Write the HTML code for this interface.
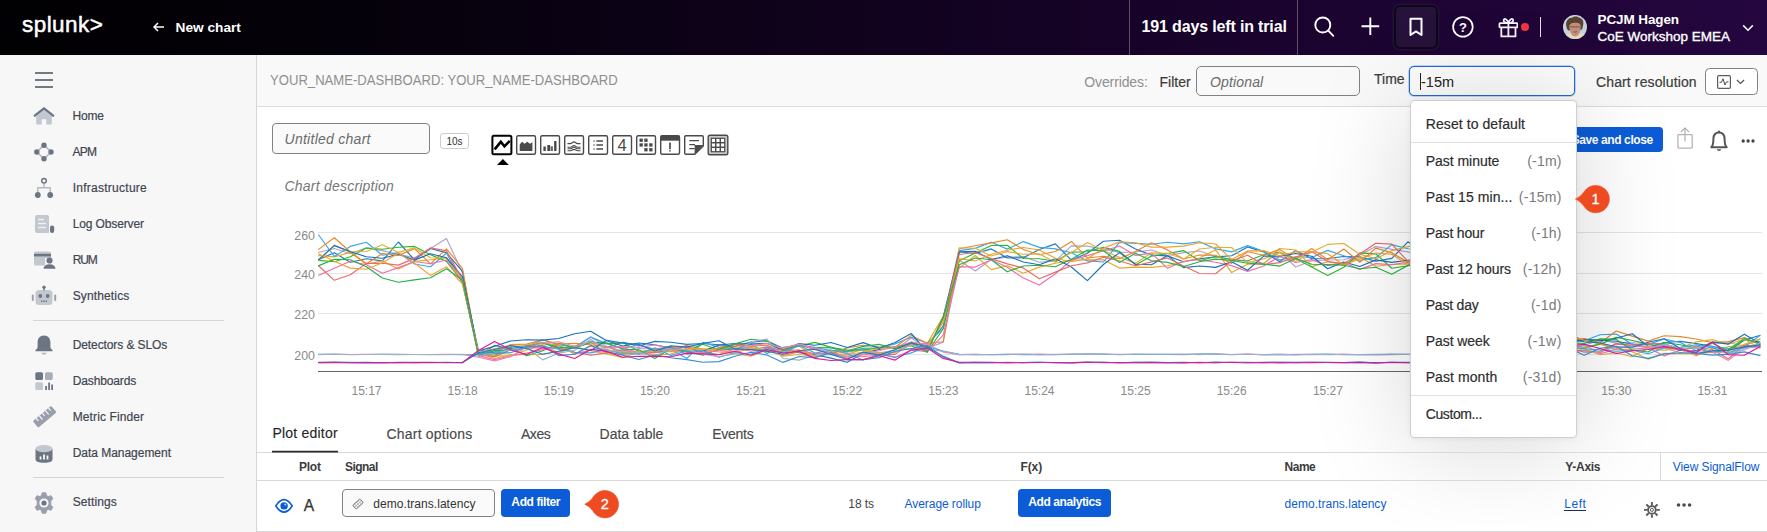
<!DOCTYPE html>
<html lang="en">
<head>
<meta charset="utf-8">
<title>New chart</title>
<style>
*{box-sizing:border-box;margin:0;padding:0}
html,body{width:1767px;height:532px;overflow:hidden;background:#fff}
body{font-family:"Liberation Sans",sans-serif;font-size:13px;color:#3c444d;position:relative}
.abs{position:absolute;white-space:nowrap}
#topbar{left:0;top:0;width:1767px;height:55px;background:linear-gradient(90deg,#010002 0%,#05010a 20%,#0f021b 45%,#170329 65%,#1f0537 85%,#25063f 100%)}
#topbar .t{color:#fff;font-weight:bold}
.vdiv{width:1px;background:#5a5163;top:0;height:55px}
#sidebar{left:0;top:55px;width:257px;height:477px;background:#f7f7f7;border-right:1px solid #d6d6d6}
.nav{left:72.600px;font-size:12px;color:#3f4650;line-height:16px;-webkit-text-stroke:0.200px #3f4650}
.sep{left:32.500px;width:191.500px;height:1px;background:#d6d6d6}
#subhdr{left:257px;top:55px;width:1510px;height:52px;background:#f9f9f9;border-bottom:1px solid #dcdcdc}
.inp{border:1px solid #818285;border-radius:4px;background:#f9f9f9}
.ph{font-style:italic;color:#6b6b6b;font-size:14px}
.btn{background:#0b5cd6;color:#fff;font-weight:bold;font-size:12px;border-radius:4px;text-align:center;letter-spacing:-0.400px}
.blue{color:#0b5cd6}
#dd{left:1409.500px;top:100px;width:167px;height:337.500px;background:#fff;border:1px solid #cfcfcf;border-radius:4px;box-shadow:0 6px 100px rgba(0,0,0,.17),0 1px 5px rgba(0,0,0,.06)}
.ddl{left:1426px;font-size:14px;color:#2c2c2c;line-height:16px;-webkit-text-stroke:0.180px #2c2c2c}
.ddr{font-size:14px;color:#7a7a7a;line-height:16px;text-align:right;right:206px}
.tab{font-size:14px;color:#4a4a4a;line-height:16px;-webkit-text-stroke:0.150px #4a4a4a}
.th{font-size:12px;font-weight:bold;color:#3c3c3c;line-height:14px}
.td{font-size:12px;line-height:14px}
.badge{width:26px;height:26px;border-radius:13px;background:#ee4b22;color:#fff;font-size:14px;text-align:center;line-height:26px}
</style>
</head>
<body>

<!-- TOP BAR -->
<div id="topbar" class="abs"></div>
<div class="abs t" id="logo" style="left:22px;top:9.6px;font-size:22.5px;line-height:30px;color:#fff;font-weight:normal;letter-spacing:0.45px;-webkit-text-stroke:0.5px #fff">splunk&gt;</div>
<svg class="abs" style="left:153px;top:22px" width="12" height="10" viewBox="0 0 12 10"><path d="M11 5H1.500M5 1L1 5L5 9" fill="none" stroke="#fff" stroke-width="1.500"/></svg>
<div class="abs" id="newchart" style="left:175.500px;top:19.6px;font-size:13.700px;line-height:16px;color:#fff;font-weight:bold">New chart</div>
<div class="abs vdiv" style="left:1129px"></div>
<div class="abs vdiv" style="left:1297px"></div>
<div class="abs" id="trial" style="left:1141.500px;top:17px;font-size:16px;line-height:20px;color:#fff;font-weight:bold;letter-spacing:-0.150px">191 days left in trial</div>
<!-- search -->
<svg class="abs" style="left:1312px;top:15px" width="24" height="24" viewBox="1312 15 24 24"><circle cx="1322.800" cy="25" r="7.500" fill="none" stroke="#fff" stroke-width="1.900"/><path d="M1328.300 30.600L1333.300 35.800" stroke="#fff" stroke-width="1.900" stroke-linecap="round"/></svg>
<!-- plus -->
<svg class="abs" style="left:1360px;top:16px" width="22" height="22" viewBox="1360 16 22 22"><path d="M1370.300 17.400V35.100M1361.500 26.250H1379.200" stroke="#fff" stroke-width="1.900"/></svg>
<!-- bookmark box -->
<div class="abs" style="left:1394px;top:5px;width:44px;height:44px;border-radius:6px;background:#26123b;border:2px solid #0d0912;box-shadow:0 0 0 1.500px #24103a"></div>
<svg class="abs" style="left:1407px;top:16px" width="18" height="22" viewBox="1407 16 18 22"><path d="M1410.500 18.700H1421.500V35L1416 31.400L1410.500 35Z" fill="none" stroke="#fff" stroke-width="2" stroke-linejoin="round"/></svg>
<!-- help -->
<svg class="abs" style="left:1451px;top:15px" width="24" height="24" viewBox="1451 15 24 24"><circle cx="1462.900" cy="26.900" r="9.800" fill="none" stroke="#fff" stroke-width="1.700"/><text x="1462.900" y="31.600" text-anchor="middle" font-family="Liberation Sans, sans-serif" font-weight="bold" font-size="13" fill="#fff">?</text></svg>
<!-- gift -->
<svg class="abs" style="left:1497.600px;top:16.800px" width="20.800" height="20.800" viewBox="0 0 22 22"><g fill="none" stroke="#f4f2f6" stroke-width="1.900" stroke-linejoin="round"><rect x="1.500" y="6.500" width="19" height="4.500" rx="0.800"/><path d="M3.5 11V20.5H18.5V11M11 6.5V20.5"/><path d="M11 6.5C8 6.5 5.5 5.5 6 3.2C6.6 1 10 2 11 6.5C12 2 15.400000000000002 1 16 3.2C16.5 5.5 14 6.5 11 6.5Z"/></g></svg>
<div class="abs" style="left:1521px;top:22.800px;width:8px;height:8px;border-radius:4px;background:#f8353f"></div>
<div class="abs" style="left:1539.800px;top:17px;width:1.500px;height:20px;background:#e4dfea"></div>
<!-- avatar -->
<svg class="abs" style="left:1563px;top:15px" width="24" height="24" viewBox="0 0 24 24"><defs><clipPath id="av"><circle cx="12" cy="11.900" r="12"/></clipPath></defs><g clip-path="url(#av)"><rect width="24" height="24" fill="#c6d2de"/><path d="M0 24L3 19.500L8 18H17L21.500 19L24 24Z" fill="#e3dac4"/><path d="M3.500 12C2 7 5 2.500 9 2.800C11 0.800 15 1.200 17 3C20.500 4 21 8 19.800 11.500C19.500 14 18.500 15.500 17.500 15L6 15.500C4.500 15.500 3.800 13.500 3.500 12Z" fill="#5a4233"/><path d="M6.300 11.500C6.500 8.500 9 7.500 12.500 7.800C16 7.500 18 9 17.800 12C17.800 17 15.500 21.500 12.300 21.500C9 21.500 6.300 17 6.300 11.500Z" fill="#c28f7b"/><path d="M7 11.900H17.300" stroke="#4d3a34" stroke-width="0.800" opacity="0.800"/><path d="M10.500 16.700Q12.200 17.600 14 16.600" stroke="#7a4a40" stroke-width="0.900" fill="none"/></g></svg>
<div class="abs" id="uname" style="left:1597.500px;top:12px;font-size:13.500px;line-height:16px;color:#fff;font-weight:bold;letter-spacing:-0.100px">PCJM Hagen</div>
<div class="abs" id="uorg" style="left:1597.500px;top:29px;font-size:13.500px;line-height:16px;color:#fff;font-weight:normal;-webkit-text-stroke:0.350px #fff">CoE Workshop EMEA</div>
<svg class="abs" style="left:1742.300px;top:23.500px" width="12" height="8" viewBox="0 0 12 8"><path d="M1.200 1.400L6 6.200L10.800 1.400" fill="none" stroke="#fff" stroke-width="1.5"/></svg>

<!-- SIDEBAR -->
<div id="sidebar" class="abs"></div>
<svg class="abs" style="left:35px;top:72px" width="18" height="16" viewBox="0 0 18 16"><path d="M0 1H18M0 8H18M0 15.100H18" stroke="#4a5260" stroke-width="1.500"/></svg>
<div class="abs nav" id="n1" style="top:108px;left:72.600px;letter-spacing:-0.205px">Home</div>
<div class="abs nav" id="n2" style="top:144px;left:72.600px;letter-spacing:-0.808px">APM</div>
<div class="abs nav" id="n3" style="top:180px;left:72.700px;letter-spacing:0.261px">Infrastructure</div>
<div class="abs nav" id="n4" style="top:216px;left:72.700px;letter-spacing:-0.128px">Log Observer</div>
<div class="abs nav" id="n5" style="top:252px;left:72.700px;letter-spacing:-1.164px">RUM</div>
<div class="abs nav" id="n6" style="top:288px;left:72.700px;letter-spacing:0.138px">Synthetics</div>
<div class="abs sep" style="top:320px"></div>
<div class="abs nav" id="n7" style="top:337px;left:72.700px;letter-spacing:-0.096px">Detectors &amp; SLOs</div>
<div class="abs nav" id="n8" style="top:373px;left:72.700px;letter-spacing:-0.124px">Dashboards</div>
<div class="abs nav" id="n9" style="top:409px;left:72.700px;letter-spacing:0.115px">Metric Finder</div>
<div class="abs nav" id="n10" style="top:445px;left:72.700px;letter-spacing:-0.031px">Data Management</div>
<div class="abs sep" style="top:477px"></div>
<div class="abs nav" id="n11" style="top:494px;left:72.700px;letter-spacing:0.106px">Settings</div>
<!-- home -->
<svg class="abs" style="left:33px;top:106px" width="22" height="20" viewBox="0 0 22 20"><path d="M3.200 10L11 3.800L18.800 10V17.300Q18.800 18.600 17.500 18.600H13.300V14.300Q13.300 13.300 12.300 13.300H9.700Q8.700 13.300 8.700 14.300V18.600H4.500Q3.200 18.600 3.200 17.300Z" fill="#c3c7cf"/><path d="M1.800 9.700L11 2.300L20.200 9.700" fill="none" stroke="#6e7582" stroke-width="2.300" stroke-linecap="round" stroke-linejoin="round"/></svg>
<!-- apm -->
<svg class="abs" style="left:33px;top:141px" width="22" height="22" viewBox="0 0 22 22"><path d="M11 4.200L3.800 11L11 17.800L18.200 11Z" fill="none" stroke="#b4b9c2" stroke-width="1.600"/><g fill="#6e7582"><circle cx="11" cy="4.300" r="2.700"/><circle cx="3.800" cy="11" r="2.700"/><circle cx="18" cy="11" r="2.700"/><circle cx="11" cy="17.700" r="2.700"/></g></svg>
<!-- infrastructure -->
<svg class="abs" style="left:33px;top:176px" width="22" height="23" viewBox="0 0 22 23"><path d="M11 7.500V11.700M4.800 16V11.700H17.200V16" fill="none" stroke="#b4b9c2" stroke-width="1.500"/><circle cx="11" cy="4.800" r="2.300" fill="none" stroke="#6e7582" stroke-width="1.500"/><circle cx="4.800" cy="19" r="2.900" fill="#6e7582"/><circle cx="17.200" cy="19" r="2.900" fill="#6e7582"/></svg>
<!-- log observer -->
<svg class="abs" style="left:34px;top:214px" width="22" height="20" viewBox="0 0 22 20"><path d="M3 1H13Q15 1 15 3V19H3Q1 19 1 17V3Q1 1 3 1Z" fill="#c3c7cf"/><path d="M4 5.500H10M4 9.500H12M4 13.500H12" stroke="#eef0f3" stroke-width="1.600"/><rect x="16" y="11.500" width="4.200" height="7.500" rx="2" fill="#6e7582"/></svg>
<!-- rum -->
<svg class="abs" style="left:33px;top:250px" width="23" height="20" viewBox="0 0 23 20"><path d="M2.500 1.500H16.500Q18 1.500 18 3V8H12V15.500H2.500Q1 15.500 1 14V3Q1 1.500 2.500 1.500Z" fill="#c3c7cf"/><rect x="1" y="3.800" width="17" height="2.600" fill="#6e7582"/><circle cx="16.500" cy="10.500" r="3.100" fill="#6e7582"/><path d="M10.500 18.700Q11 14.200 16.500 14.200Q22 14.200 22.500 18.700Z" fill="#6e7582"/></svg>
<!-- synthetics -->
<svg class="abs" style="left:31px;top:285px" width="26" height="21" viewBox="0 0 26 21"><rect x="4.500" y="5" width="17" height="15" rx="3.500" fill="#c3c7cf"/><rect x="0.800" y="9.500" width="2" height="6.500" rx="1" fill="#9aa0ab"/><rect x="23.200" y="9.500" width="2" height="6.500" rx="1" fill="#9aa0ab"/><circle cx="13" cy="2.300" r="1.700" fill="#6e7582"/><rect x="12.300" y="3" width="1.400" height="2.500" fill="#6e7582"/><circle cx="9.300" cy="11" r="1.900" fill="#6e7582"/><circle cx="16.700" cy="11" r="1.900" fill="#6e7582"/><path d="M10 16.200H16" stroke="#6e7582" stroke-width="1.600" stroke-dasharray="1.400 0.900"/></svg>
<!-- detectors bell -->
<svg class="abs" style="left:34px;top:334px" width="20" height="22" viewBox="0 0 20 22"><path d="M10 1.500C5.800 1.500 3.600 4.700 3.600 8.500V13C3.600 14.600 2.600 15.300 1.400 16.300V17.300H18.600V16.300C17.400 15.300 16.400 14.600 16.400 13V8.500C16.400 4.700 14.200 1.500 10 1.500Z" fill="#6e7582"/><path d="M7.200 18.800H12.800Q12.200 20.800 10 20.800Q7.800 20.800 7.200 18.800Z" fill="#b4b9c2"/></svg>
<!-- dashboards -->
<svg class="abs" style="left:35px;top:372px" width="19" height="19" viewBox="0 0 19 19"><rect x="0.300" y="0.300" width="7.700" height="7.700" rx="1.500" fill="#6e7582"/><rect x="10" y="0.300" width="7.700" height="7.700" rx="1.500" fill="#a8adb7"/><rect x="0.300" y="10.300" width="7.700" height="7.700" rx="1.500" fill="#c3c7cf"/><rect x="10.200" y="14" width="1.800" height="4" fill="#6e7582"/><rect x="13.200" y="10.500" width="1.800" height="7.500" fill="#6e7582"/><rect x="16.200" y="12.500" width="1.800" height="5.500" fill="#6e7582"/></svg>
<!-- metric finder ruler -->
<svg class="abs" style="left:32px;top:404px" width="25" height="25" viewBox="0 0 25 25"><g transform="rotate(-40 12.500 12.500)"><rect x="0.500" y="8.500" width="24" height="8.500" rx="1.200" fill="#9aa0ab"/><path d="M5 8.500V12M9 8.500V13.500M13 8.500V12M17 8.500V13.500M21 8.500V12" stroke="#f1f2f4" stroke-width="1.300"/></g></svg>
<!-- data management -->
<svg class="abs" style="left:34px;top:444px" width="20" height="20" viewBox="0 0 20 20"><path d="M1.500 5V15.500C1.500 17.500 5 18.800 10 18.800C15 18.800 18.500 17.500 18.500 15.500V5Z" fill="#6e7582"/><ellipse cx="10" cy="4.600" rx="8.500" ry="3.600" fill="#c3c7cf"/><path d="M6.500 15.500V12.500M10 15.500V10.500M13.500 15.500V11.500" stroke="#fff" stroke-width="1.700"/></svg>
<!-- settings gear -->
<svg class="abs" style="left:33px;top:492px" width="22" height="22" viewBox="0 0 22 22"><path d="M9.200 0.800H12.800L13.500 3.600L15.300 4.600L18 3.700L19.800 6.800L17.800 8.900V11V13.100L19.800 15.200L18 18.300L15.300 17.400L13.500 18.400L12.800 21.200H9.200L8.500 18.400L6.700 17.400L4 18.300L2.200 15.200L4.200 13.100V8.900L2.200 6.800L4 3.700L6.700 4.600L8.500 3.600Z" fill="#9aa0ab" stroke="#9aa0ab" stroke-width="1" stroke-linejoin="round"/><circle cx="11" cy="11" r="4.600" fill="#f7f7f7"/><circle cx="11" cy="11" r="2.600" fill="#6e7582"/></svg>


<!-- SUB HEADER -->
<div id="subhdr" class="abs"></div>
<div class="abs" id="crumb" style="left:270.300px;top:72px;font-size:14px;line-height:16px;color:#8f8f8f;transform:scaleX(0.936);transform-origin:0 0">YOUR_NAME-DASHBOARD: YOUR_NAME-DASHBOARD</div>
<div class="abs" id="ovr" style="left:1084.300px;top:74px;font-size:14px;line-height:16px;color:#8f8f8f;letter-spacing:-0.120px">Overrides:</div>
<div class="abs" id="flt" style="left:1159.500px;top:74px;font-size:14px;line-height:16px;color:#3c3c3c;-webkit-text-stroke:0.200px #3c3c3c">Filter</div>
<div class="abs inp" style="left:1196px;top:66px;width:164px;height:30px;border-radius:5px"></div>
<div class="abs ph" id="opt" style="left:1210px;top:74px;line-height:16px;letter-spacing:0.150px">Optional</div>
<div class="abs" id="time" style="left:1374px;top:71px;font-size:14px;line-height:16px;color:#3c3c3c;-webkit-text-stroke:0.200px #3c3c3c">Time</div>
<div class="abs" style="left:1409px;top:66px;width:166px;height:30px;border:1.500px solid #2168dc;border-radius:5px;background:#fcfcfc;box-shadow:0 0 0 0.500px rgba(33,104,220,.5)"></div>
<div class="abs" style="left:1420px;top:73px;width:1px;height:16.500px;background:#222"></div>
<div class="abs" id="tval" style="left:1421px;top:74px;font-size:14.500px;line-height:16px;color:#222">-15m</div>
<div class="abs" id="cres" style="left:1596px;top:74px;font-size:14px;line-height:16px;color:#3c3c3c;-webkit-text-stroke:0.200px #3c3c3c;letter-spacing:0.120px">Chart resolution</div>
<div class="abs" style="left:1705px;top:68px;width:53px;height:27px;border:1px solid #808184;border-radius:4.500px;background:#fff"></div>
<svg class="abs" style="left:1717.200px;top:75px" width="14" height="14" viewBox="0 0 14 14"><rect x="0.600" y="0.600" width="12.800" height="12.800" rx="1.300" fill="none" stroke="#5c5c5c" stroke-width="1.200"/><path d="M2.500 7.300H4.500L6 3.800L8 10L9.500 6.800H11.500" fill="none" stroke="#4a4a4a" stroke-width="1"/></svg>
<svg class="abs" style="left:1736.400px;top:79px" width="9" height="6" viewBox="0 0 9 6"><path d="M0.900 1L4.500 4.500L8.100 1" fill="none" stroke="#4a4a4a" stroke-width="1.050"/></svg>

<!-- TITLE ROW -->
<div class="abs inp" style="left:272px;top:123px;width:158px;height:31px;background:#fafafa"></div>
<div class="abs ph" id="untitled" style="left:284.500px;top:131px;line-height:16px;letter-spacing:0.270px">Untitled chart</div>
<div class="abs" id="tens" style="left:440px;top:133px;width:29px;height:16px;border:1px solid #cdcdcd;border-radius:3px;font-size:10px;line-height:15.500px;text-align:center;color:#333;background:#fff">10s</div>
<svg class="abs" style="left:488px;top:132px" width="244" height="36" viewBox="488 132 244 36">
<!-- 1 line (selected) -->
<rect x="492.400" y="135.700" width="19" height="18.600" rx="1.500" fill="#fff" stroke="#000" stroke-width="2"/>
<path d="M494.600 149.300L500.800 141.800L504.400 146.300L509.800 140.800" fill="none" stroke="#000" stroke-width="2.600" stroke-linejoin="miter"/>
<path d="M497 165L502.900 158.900L508.800 165Z" fill="#000"/>
<g fill="#fff" stroke="#4a4a4a" stroke-width="1.400">
<rect x="516.700" y="135.700" width="18.800" height="18.600" rx="1.500"/>
<rect x="540.700" y="135.700" width="18.800" height="18.600" rx="1.500"/>
<rect x="564.700" y="135.700" width="18.800" height="18.600" rx="1.500"/>
<rect x="588.700" y="135.700" width="18.800" height="18.600" rx="1.500"/>
<rect x="612.700" y="135.700" width="18.800" height="18.600" rx="1.500"/>
<rect x="636.700" y="135.700" width="18.800" height="18.600" rx="1.500"/>
<rect x="660.700" y="135.700" width="18.800" height="18.600" rx="1.500"/>
</g>
<!-- 2 area -->
<path d="M519.700 151V144.600L522 141.800L524.500 143.800L527.200 141.800L530 143.800L532.400 142.200V151Z" fill="#4a4a4a"/>
<!-- 3 bars -->
<g fill="#4a4a4a"><rect x="543.400" y="146.500" width="2.400" height="4.500"/><rect x="547.300" y="145" width="2.800" height="6"/><rect x="550.600" y="146.300" width="2.300" height="4.700" fill="#666"/><rect x="554.100" y="141" width="2.400" height="10"/></g>
<!-- 4 wavy lines -->
<g fill="none" stroke="#4a4a4a" stroke-width="1.100"><path d="M567.500 143.600H570.500C572 143.600 572.500 141.900 574 141.900S576 143.600 577.500 143.600H580.500"/><path d="M567.500 147.300H570.500C572 147.300 572.500 145.600 574 145.600S576 147.300 577.500 147.300H580.500"/><path d="M567.500 148.700H570.500C572 148.700 572.500 147.300 574 147.300S576 148.700 577.500 148.700H580.500"/><path d="M567.500 150.700H570.500C572 150.700 572.500 149.400 574 149.400S576 150.700 577.500 150.700H580.500"/></g>
<!-- 5 list -->
<g stroke="#4a4a4a" stroke-width="1.500"><path d="M596.400 141H603M596.400 145H603M596.400 149H603"/><path d="M593.400 141H594.700M593.400 145H594.700M593.400 149H594.700" stroke="#666" stroke-width="1.300"/></g>
<!-- 6 single value -->
<text x="622" y="150.600" text-anchor="middle" font-family="Liberation Sans, sans-serif" font-size="16.500" fill="#4a4a4a">4</text>
<!-- 7 heatmap -->
<g fill="#4a4a4a"><rect x="639.500" y="138.600" width="3.300" height="3.300"/><rect x="644.300" y="138.600" width="3.300" height="3.300"/><rect x="639.500" y="143.300" width="3.300" height="3.300"/><rect x="644.300" y="143.300" width="3.300" height="3.300"/><rect x="649.200" y="143.300" width="3.300" height="3.300"/><rect x="644.300" y="148.100" width="3.300" height="3.300"/><rect x="649.200" y="148.100" width="3.300" height="3.300"/></g>
<!-- 8 event feed -->
<rect x="660.700" y="135.700" width="18.800" height="5" fill="#4a4a4a"/>
<path d="M670 142.600V149.200M670 150.200V151.400" stroke="#4a4a4a" stroke-width="1.700"/>
<!-- 9 note -->
<path d="M685.900 135.700H702.100Q703.300 135.700 703.300 136.900V146L694.800 154.300H685.900Q684.700 154.300 684.700 153.100V136.900Q684.700 135.700 685.900 135.700Z" fill="#fff" stroke="#4a4a4a" stroke-width="1.400"/>
<path d="M694.600 145H703.500L694.600 154.300Z" fill="#4a4a4a"/>
<path d="M689.300 140.600H699M689.300 144.600H695M689.300 148.700H694.600" stroke="#4a4a4a" stroke-width="1.300"/>
<!-- 10 table -->
<rect x="708.200" y="135.200" width="19.600" height="19.600" rx="1.800" fill="#c9c9c9" stroke="#4a4a4a" stroke-width="1.400"/>
<rect x="710.700" y="137.700" width="14.600" height="14.600" fill="#4a4a4a"/>
<g fill="#fff"><rect x="711.900" y="138.900" width="3.100" height="3.100"/><rect x="716.450" y="138.900" width="3.100" height="3.100"/><rect x="721" y="138.900" width="3.100" height="3.100"/><rect x="711.900" y="143.450" width="3.100" height="3.100"/><rect x="716.450" y="143.450" width="3.100" height="3.100"/><rect x="721" y="143.450" width="3.100" height="3.100"/><rect x="711.900" y="148" width="3.100" height="3.100"/><rect x="716.450" y="148" width="3.100" height="3.100"/><rect x="721" y="148" width="3.100" height="3.100"/></g>
</svg>

<div class="abs ph" id="cdesc" style="left:284.500px;top:178px;line-height:16px;color:#777;letter-spacing:0.220px">Chart description</div>
<div class="abs btn" id="save" style="left:1559px;top:127px;width:104px;height:25px;line-height:27px;text-align:right;padding-right:10.200px">Save and close</div>
<!-- share -->
<svg class="abs" style="left:1674px;top:124px" width="22" height="28" viewBox="1674 124 22 28"><g fill="none" stroke="#b2b2b2" stroke-width="1.250" stroke-linejoin="round"><rect x="1677.900" y="134.600" width="14.300" height="13.400" rx="0.800"/><path d="M1684.950 141.300V128M1680.800 132.100L1684.950 127.900L1689.100 132.100"/></g></svg>
<!-- bell -->
<svg class="abs" style="left:1709px;top:129px" width="20" height="24" viewBox="0 0 20 24"><path d="M2.300 18.300H17.700C15.900 16.500 15.600 14 15.600 10C15.600 6 13.500 3.400 10 3.400C6.500 3.400 4.400 6 4.400 10C4.400 14 4.100 16.500 2.300 18.300Z" fill="none" stroke="#555" stroke-width="2" stroke-linejoin="round"/><circle cx="10" cy="2.600" r="1.100" fill="#555"/><path d="M7.700 20.300A2.400 2.400 0 0 0 12.300 20.300Z" fill="#555"/></svg>
<svg class="abs" style="left:1738px;top:136px" width="20" height="10" viewBox="1738 136 20 10"><g fill="#444"><circle cx="1743.200" cy="141" r="1.650"/><circle cx="1748.100" cy="141" r="1.650"/><circle cx="1753" cy="141" r="1.650"/></g></svg>

<!-- CHART -->
<svg class="abs" style="left:257px;top:200px" width="1510" height="210" viewBox="257 200 1510 210">
<g stroke="#e4e4e4" stroke-width="1"><path d="M318 232.500H1762M318 273.500H1762M318 313.500H1762M318 354.500H1762"/></g>
<polyline fill="none" stroke="#b5a0d0" stroke-width="1.15" stroke-linejoin="round" points="318.3,252.5 334.3,248.5 350.3,253.7 366.4,247.9 382.4,250.6 398.4,254.2 414.4,257.9 430.5,248.4 446.5,238.4 462.5,272.9 478.5,354.4 494.6,348.7 510.6,349.2 526.6,346.6 542.6,346.8 558.6,352.2 574.7,347.2 590.7,337.0 606.7,346.4 622.7,351.4 638.8,348.5 654.8,349.0 670.8,346.6 686.8,354.3 702.9,350.6 718.9,345.6 734.9,349.8 750.9,343.9 766.9,346.1 783.0,348.3 799.0,344.0 815.0,349.2 831.0,347.0 847.1,354.5 863.1,348.9 879.1,353.0 895.1,349.9 911.2,338.0 927.2,348.3 943.2,342.1 959.2,260.0 975.2,271.0 991.3,259.5 1007.3,257.0 1023.3,256.6 1039.3,262.3 1055.4,260.9 1071.4,245.9 1087.4,246.1 1103.4,249.2 1119.5,252.4 1135.5,252.0 1151.5,250.0 1167.5,255.5 1183.5,252.6 1199.6,251.0 1215.6,256.5 1231.6,259.3 1247.6,261.8 1263.7,263.4 1279.7,251.8 1295.7,267.0 1311.7,260.7 1327.7,260.0 1343.8,259.8 1359.8,255.1 1375.8,246.6 1391.8,249.3 1407.9,251.9 1423.9,256.1 1439.9,254.9 1455.9,273.7 1472.0,353.2 1488.0,346.7 1504.0,349.3 1520.0,350.1 1536.0,351.2 1552.1,342.9 1568.1,342.5 1584.1,345.5 1600.1,339.7 1616.2,343.1 1632.2,342.8 1648.2,343.7 1664.2,348.2 1680.3,352.5 1696.3,350.8 1712.3,343.4 1728.3,342.7 1744.3,345.8 1760.4,339.0"/>
<polyline fill="none" stroke="#1f78c1" stroke-width="1.15" stroke-linejoin="round" points="318.3,259.6 334.3,252.7 350.3,262.3 366.4,258.8 382.4,260.9 398.4,242.0 414.4,259.8 430.5,248.5 446.5,252.9 462.5,271.3 478.5,355.5 494.6,345.4 510.6,348.9 526.6,345.5 542.6,342.8 558.6,348.5 574.7,346.1 590.7,341.3 606.7,347.8 622.7,342.3 638.8,346.0 654.8,341.4 670.8,342.3 686.8,344.4 702.9,343.5 718.9,344.7 734.9,346.4 750.9,342.1 766.9,340.8 783.0,348.3 799.0,352.7 815.0,354.7 831.0,358.1 847.1,362.3 863.1,353.4 879.1,349.4 895.1,346.8 911.2,343.7 927.2,345.2 943.2,326.0 959.2,251.8 975.2,253.5 991.3,248.9 1007.3,258.0 1023.3,257.7 1039.3,249.5 1055.4,243.9 1071.4,260.2 1087.4,253.2 1103.4,241.3 1119.5,240.3 1135.5,249.0 1151.5,255.1 1167.5,255.9 1183.5,261.7 1199.6,258.7 1215.6,256.9 1231.6,255.8 1247.6,246.9 1263.7,251.9 1279.7,261.8 1295.7,250.5 1311.7,258.8 1327.7,258.5 1343.8,256.5 1359.8,256.9 1375.8,261.2 1391.8,258.4 1407.9,241.8 1423.9,251.9 1439.9,253.5 1455.9,283.7 1472.0,354.1 1488.0,345.7 1504.0,340.5 1520.0,349.2 1536.0,348.3 1552.1,344.7 1568.1,342.1 1584.1,339.2 1600.1,340.1 1616.2,341.2 1632.2,344.0 1648.2,347.3 1664.2,342.5 1680.3,341.4 1696.3,343.6 1712.3,346.2 1728.3,351.1 1744.3,340.0 1760.4,335.3"/>
<polyline fill="none" stroke="#e8a923" stroke-width="1.15" stroke-linejoin="round" points="318.3,255.6 334.3,256.9 350.3,252.4 366.4,264.2 382.4,260.9 398.4,269.0 414.4,261.4 430.5,259.8 446.5,257.6 462.5,282.8 478.5,352.6 494.6,358.5 510.6,354.6 526.6,354.6 542.6,354.3 558.6,351.3 574.7,346.1 590.7,341.7 606.7,353.5 622.7,354.2 638.8,351.9 654.8,349.7 670.8,351.6 686.8,345.3 702.9,349.2 718.9,348.5 734.9,347.0 750.9,347.7 766.9,351.4 783.0,349.1 799.0,346.0 815.0,356.8 831.0,351.6 847.1,352.1 863.1,350.0 879.1,352.9 895.1,352.6 911.2,344.5 927.2,343.2 943.2,316.6 959.2,267.9 975.2,255.5 991.3,269.6 1007.3,265.7 1023.3,273.2 1039.3,267.1 1055.4,263.3 1071.4,260.3 1087.4,259.8 1103.4,259.8 1119.5,268.1 1135.5,267.1 1151.5,267.4 1167.5,265.8 1183.5,261.9 1199.6,258.0 1215.6,249.8 1231.6,272.6 1247.6,264.2 1263.7,264.1 1279.7,248.5 1295.7,250.0 1311.7,266.9 1327.7,261.6 1343.8,265.0 1359.8,257.0 1375.8,266.3 1391.8,264.5 1407.9,263.9 1423.9,263.4 1439.9,266.2 1455.9,291.5 1472.0,353.9 1488.0,359.1 1504.0,351.9 1520.0,352.9 1536.0,348.5 1552.1,345.9 1568.1,347.7 1584.1,348.8 1600.1,343.2 1616.2,348.3 1632.2,351.7 1648.2,359.2 1664.2,353.4 1680.3,353.6 1696.3,353.4 1712.3,352.4 1728.3,346.5 1744.3,345.6 1760.4,345.2"/>
<polyline fill="none" stroke="#38a8e8" stroke-width="1.15" stroke-linejoin="round" points="318.3,234.5 334.3,256.4 350.3,246.4 366.4,242.3 382.4,255.2 398.4,252.6 414.4,264.0 430.5,266.7 446.5,253.0 462.5,283.0 478.5,355.3 494.6,350.7 510.6,347.0 526.6,346.3 542.6,340.0 558.6,344.7 574.7,347.2 590.7,337.1 606.7,343.6 622.7,348.4 638.8,344.9 654.8,349.4 670.8,349.0 686.8,358.5 702.9,342.4 718.9,347.3 734.9,349.2 750.9,344.3 766.9,353.4 783.0,347.4 799.0,345.0 815.0,348.3 831.0,350.2 847.1,351.6 863.1,348.4 879.1,347.7 895.1,343.9 911.2,337.3 927.2,343.2 943.2,328.6 959.2,250.6 975.2,248.4 991.3,242.2 1007.3,249.1 1023.3,241.6 1039.3,247.4 1055.4,248.9 1071.4,252.8 1087.4,260.9 1103.4,262.0 1119.5,242.4 1135.5,243.4 1151.5,244.2 1167.5,242.3 1183.5,243.9 1199.6,241.8 1215.6,248.9 1231.6,251.9 1247.6,245.6 1263.7,251.2 1279.7,259.9 1295.7,256.8 1311.7,257.5 1327.7,250.4 1343.8,255.7 1359.8,260.2 1375.8,257.6 1391.8,244.6 1407.9,248.8 1423.9,249.4 1439.9,250.6 1455.9,281.7 1472.0,350.8 1488.0,346.9 1504.0,349.6 1520.0,340.1 1536.0,341.0 1552.1,342.9 1568.1,333.9 1584.1,340.7 1600.1,334.8 1616.2,334.1 1632.2,344.6 1648.2,344.4 1664.2,339.0 1680.3,342.5 1696.3,350.8 1712.3,346.9 1728.3,348.4 1744.3,346.5 1760.4,335.3"/>
<polyline fill="none" stroke="#2db52d" stroke-width="1.15" stroke-linejoin="round" points="318.3,260.4 334.3,261.8 350.3,256.8 366.4,248.1 382.4,249.2 398.4,247.3 414.4,246.4 430.5,254.8 446.5,261.4 462.5,281.8 478.5,353.1 494.6,355.3 510.6,347.3 526.6,355.7 542.6,350.7 558.6,343.3 574.7,347.6 590.7,342.7 606.7,343.6 622.7,342.6 638.8,351.3 654.8,351.6 670.8,351.4 686.8,350.6 702.9,344.3 718.9,350.0 734.9,349.1 750.9,349.6 766.9,351.6 783.0,351.2 799.0,346.0 815.0,342.4 831.0,347.4 847.1,350.0 863.1,350.0 879.1,348.1 895.1,347.1 911.2,345.8 927.2,352.2 943.2,328.8 959.2,260.8 975.2,253.1 991.3,245.5 1007.3,245.3 1023.3,258.5 1039.3,258.8 1055.4,261.2 1071.4,252.1 1087.4,251.7 1103.4,247.4 1119.5,251.4 1135.5,264.9 1151.5,256.1 1167.5,253.5 1183.5,250.6 1199.6,260.7 1215.6,256.5 1231.6,259.5 1247.6,260.8 1263.7,254.8 1279.7,252.2 1295.7,258.8 1311.7,267.0 1327.7,275.5 1343.8,267.3 1359.8,252.9 1375.8,253.9 1391.8,268.2 1407.9,265.8 1423.9,256.7 1439.9,244.7 1455.9,285.3 1472.0,357.6 1488.0,347.5 1504.0,348.8 1520.0,347.5 1536.0,346.2 1552.1,347.8 1568.1,345.5 1584.1,347.2 1600.1,344.4 1616.2,337.3 1632.2,340.5 1648.2,344.1 1664.2,343.5 1680.3,350.4 1696.3,346.9 1712.3,343.2 1728.3,351.0 1744.3,340.0 1760.4,341.7"/>
<polyline fill="none" stroke="#e8872b" stroke-width="1.15" stroke-linejoin="round" points="318.3,249.6 334.3,237.8 350.3,251.8 366.4,263.8 382.4,253.5 398.4,255.4 414.4,248.7 430.5,263.9 446.5,248.8 462.5,268.5 478.5,356.2 494.6,352.0 510.6,344.6 526.6,344.1 542.6,339.7 558.6,344.0 574.7,343.3 590.7,344.8 606.7,346.7 622.7,352.6 638.8,351.7 654.8,349.8 670.8,347.6 686.8,346.4 702.9,352.5 718.9,347.8 734.9,344.1 750.9,346.4 766.9,345.0 783.0,355.6 799.0,351.8 815.0,353.7 831.0,354.1 847.1,347.9 863.1,345.3 879.1,346.7 895.1,347.2 911.2,335.4 927.2,343.3 943.2,341.8 959.2,248.8 975.2,245.7 991.3,242.9 1007.3,239.8 1023.3,249.5 1039.3,254.8 1055.4,251.5 1071.4,241.4 1087.4,258.0 1103.4,256.3 1119.5,258.6 1135.5,251.6 1151.5,242.8 1167.5,249.9 1183.5,259.0 1199.6,255.0 1215.6,255.3 1231.6,263.4 1247.6,251.7 1263.7,255.3 1279.7,249.4 1295.7,259.3 1311.7,248.5 1327.7,259.7 1343.8,249.0 1359.8,262.2 1375.8,248.1 1391.8,252.8 1407.9,262.3 1423.9,258.3 1439.9,252.9 1455.9,278.0 1472.0,357.0 1488.0,353.5 1504.0,346.3 1520.0,354.4 1536.0,347.7 1552.1,342.3 1568.1,340.8 1584.1,338.6 1600.1,343.0 1616.2,331.0 1632.2,336.1 1648.2,341.1 1664.2,335.8 1680.3,336.6 1696.3,339.0 1712.3,342.6 1728.3,341.6 1744.3,337.6 1760.4,344.8"/>
<polyline fill="none" stroke="#ee6fa8" stroke-width="1.15" stroke-linejoin="round" points="318.3,275.5 334.3,268.3 350.3,261.3 366.4,264.8 382.4,273.3 398.4,267.6 414.4,261.5 430.5,263.8 446.5,260.0 462.5,281.9 478.5,355.6 494.6,359.6 510.6,356.0 526.6,353.1 542.6,349.6 558.6,344.9 574.7,353.9 590.7,350.1 606.7,347.2 622.7,347.3 638.8,353.1 654.8,352.4 670.8,351.0 686.8,346.7 702.9,352.0 718.9,354.5 734.9,349.0 750.9,351.0 766.9,350.8 783.0,349.6 799.0,350.4 815.0,353.8 831.0,353.0 847.1,358.5 863.1,354.7 879.1,353.4 895.1,357.6 911.2,349.9 927.2,351.6 943.2,335.1 959.2,266.6 975.2,267.1 991.3,259.8 1007.3,267.3 1023.3,278.0 1039.3,285.0 1055.4,273.8 1071.4,260.3 1087.4,255.6 1103.4,251.0 1119.5,246.0 1135.5,255.4 1151.5,253.1 1167.5,268.3 1183.5,261.2 1199.6,259.8 1215.6,262.3 1231.6,265.6 1247.6,271.4 1263.7,266.0 1279.7,256.4 1295.7,262.5 1311.7,259.6 1327.7,265.8 1343.8,262.8 1359.8,269.4 1375.8,263.6 1391.8,264.8 1407.9,262.0 1423.9,266.5 1439.9,272.1 1455.9,293.2 1472.0,350.0 1488.0,352.4 1504.0,350.5 1520.0,346.1 1536.0,344.2 1552.1,345.1 1568.1,352.8 1584.1,350.0 1600.1,352.8 1616.2,344.1 1632.2,345.5 1648.2,347.8 1664.2,355.9 1680.3,350.0 1696.3,346.2 1712.3,352.0 1728.3,349.7 1744.3,346.3 1760.4,346.1"/>
<polyline fill="none" stroke="#e0b13a" stroke-width="1.15" stroke-linejoin="round" points="318.3,260.5 334.3,245.8 350.3,251.9 366.4,251.5 382.4,244.8 398.4,252.4 414.4,247.9 430.5,257.7 446.5,258.0 462.5,281.0 478.5,354.9 494.6,355.8 510.6,355.8 526.6,349.9 542.6,344.6 558.6,353.1 574.7,346.6 590.7,350.7 606.7,353.9 622.7,357.6 638.8,351.9 654.8,351.6 670.8,351.7 686.8,349.4 702.9,349.4 718.9,352.0 734.9,353.6 750.9,356.3 766.9,350.1 783.0,356.2 799.0,354.5 815.0,356.2 831.0,353.5 847.1,354.2 863.1,352.2 879.1,348.3 895.1,348.3 911.2,349.1 927.2,346.1 943.2,322.4 959.2,247.8 975.2,248.2 991.3,256.0 1007.3,251.6 1023.3,254.2 1039.3,253.9 1055.4,262.2 1071.4,252.4 1087.4,242.6 1103.4,250.5 1119.5,257.4 1135.5,263.2 1151.5,252.9 1167.5,253.2 1183.5,259.0 1199.6,249.0 1215.6,247.3 1231.6,247.5 1247.6,262.6 1263.7,258.9 1279.7,252.6 1295.7,261.5 1311.7,251.9 1327.7,244.4 1343.8,243.5 1359.8,254.2 1375.8,258.9 1391.8,250.6 1407.9,246.6 1423.9,243.3 1439.9,242.0 1455.9,275.6 1472.0,350.0 1488.0,352.5 1504.0,347.5 1520.0,340.4 1536.0,347.3 1552.1,350.6 1568.1,347.9 1584.1,348.8 1600.1,354.7 1616.2,352.8 1632.2,356.8 1648.2,348.2 1664.2,350.4 1680.3,347.9 1696.3,341.9 1712.3,339.6 1728.3,344.1 1744.3,339.3 1760.4,348.2"/>
<polyline fill="none" stroke="#1a6fb8" stroke-width="1.15" stroke-linejoin="round" points="318.3,260.2 334.3,245.4 350.3,251.7 366.4,256.7 382.4,258.2 398.4,254.3 414.4,260.1 430.5,253.7 446.5,257.8 462.5,276.8 478.5,350.9 494.6,346.3 510.6,341.0 526.6,339.8 542.6,340.1 558.6,338.5 574.7,333.8 590.7,331.3 606.7,340.8 622.7,346.0 638.8,343.0 654.8,344.7 670.8,348.1 686.8,351.9 702.9,351.3 718.9,345.0 734.9,343.5 750.9,344.0 766.9,343.3 783.0,350.4 799.0,343.6 815.0,345.2 831.0,342.5 847.1,347.5 863.1,342.6 879.1,348.3 895.1,342.5 911.2,333.5 927.2,351.8 943.2,316.9 959.2,251.9 975.2,251.2 991.3,259.5 1007.3,255.7 1023.3,262.0 1039.3,264.8 1055.4,258.7 1071.4,267.0 1087.4,280.6 1103.4,264.5 1119.5,252.6 1135.5,264.3 1151.5,264.7 1167.5,255.6 1183.5,267.6 1199.6,266.0 1215.6,267.4 1231.6,261.7 1247.6,270.3 1263.7,256.1 1279.7,256.2 1295.7,253.5 1311.7,256.2 1327.7,268.8 1343.8,262.0 1359.8,266.5 1375.8,259.9 1391.8,262.4 1407.9,260.2 1423.9,258.5 1439.9,251.6 1455.9,279.1 1472.0,354.4 1488.0,346.1 1504.0,337.4 1520.0,337.9 1536.0,342.2 1552.1,342.2 1568.1,343.1 1584.1,339.8 1600.1,340.9 1616.2,338.2 1632.2,333.8 1648.2,346.4 1664.2,345.7 1680.3,350.5 1696.3,350.8 1712.3,341.9 1728.3,344.1 1744.3,334.2 1760.4,343.8"/>
<polyline fill="none" stroke="#ea6a6a" stroke-width="1.15" stroke-linejoin="round" points="318.3,265.5 334.3,280.3 350.3,274.8 366.4,263.4 382.4,263.3 398.4,265.1 414.4,258.4 430.5,247.9 446.5,250.9 462.5,279.9 478.5,354.8 494.6,356.6 510.6,349.9 526.6,347.7 542.6,347.9 558.6,347.8 574.7,352.3 590.7,355.1 606.7,352.9 622.7,349.9 638.8,354.0 654.8,352.6 670.8,349.8 686.8,345.9 702.9,353.4 718.9,350.3 734.9,344.4 750.9,349.2 766.9,347.3 783.0,350.1 799.0,344.7 815.0,349.7 831.0,352.2 847.1,356.9 863.1,356.5 879.1,355.2 895.1,354.4 911.2,343.3 927.2,349.9 943.2,318.6 959.2,254.5 975.2,252.5 991.3,258.6 1007.3,263.9 1023.3,267.9 1039.3,278.8 1055.4,272.1 1071.4,265.8 1087.4,262.9 1103.4,257.2 1119.5,261.0 1135.5,265.7 1151.5,261.9 1167.5,257.9 1183.5,266.0 1199.6,273.5 1215.6,273.8 1231.6,260.8 1247.6,255.3 1263.7,264.7 1279.7,262.6 1295.7,257.1 1311.7,251.6 1327.7,261.6 1343.8,263.5 1359.8,253.9 1375.8,243.3 1391.8,244.1 1407.9,261.3 1423.9,259.0 1439.9,262.7 1455.9,285.0 1472.0,355.6 1488.0,354.0 1504.0,350.3 1520.0,342.7 1536.0,343.3 1552.1,345.0 1568.1,347.3 1584.1,352.1 1600.1,351.2 1616.2,343.6 1632.2,345.4 1648.2,343.2 1664.2,344.2 1680.3,348.0 1696.3,354.3 1712.3,349.4 1728.3,358.9 1744.3,345.0 1760.4,347.6"/>
<polyline fill="none" stroke="#f0a030" stroke-width="1.15" stroke-linejoin="round" points="318.3,253.8 334.3,261.3 350.3,268.1 366.4,269.3 382.4,262.7 398.4,253.2 414.4,263.0 430.5,275.4 446.5,266.8 462.5,284.2 478.5,351.3 494.6,348.9 510.6,345.1 526.6,344.9 542.6,342.2 558.6,345.6 574.7,354.1 590.7,346.3 606.7,350.5 622.7,353.5 638.8,353.5 654.8,355.1 670.8,354.0 686.8,348.1 702.9,348.7 718.9,350.2 734.9,353.0 750.9,347.6 766.9,349.7 783.0,352.5 799.0,349.8 815.0,356.1 831.0,353.3 847.1,356.9 863.1,352.7 879.1,352.7 895.1,352.6 911.2,341.9 927.2,347.3 943.2,321.7 959.2,258.6 975.2,261.0 991.3,254.3 1007.3,250.2 1023.3,247.5 1039.3,250.0 1055.4,258.2 1071.4,261.7 1087.4,258.7 1103.4,248.2 1119.5,241.9 1135.5,242.8 1151.5,247.1 1167.5,247.1 1183.5,246.1 1199.6,242.7 1215.6,244.0 1231.6,259.6 1247.6,250.9 1263.7,250.6 1279.7,255.8 1295.7,251.9 1311.7,251.7 1327.7,253.7 1343.8,265.0 1359.8,258.7 1375.8,253.0 1391.8,254.3 1407.9,264.6 1423.9,256.3 1439.9,250.9 1455.9,272.9 1472.0,357.0 1488.0,352.4 1504.0,350.7 1520.0,346.2 1536.0,347.3 1552.1,346.2 1568.1,334.6 1584.1,340.3 1600.1,343.9 1616.2,349.8 1632.2,349.3 1648.2,347.9 1664.2,348.2 1680.3,349.1 1696.3,355.7 1712.3,348.1 1728.3,352.9 1744.3,344.3 1760.4,338.7"/>
<polyline fill="none" stroke="#27b04a" stroke-width="1.15" stroke-linejoin="round" points="318.3,265.9 334.3,259.2 350.3,259.8 366.4,266.8 382.4,278.0 398.4,282.2 414.4,279.9 430.5,277.8 446.5,268.8 462.5,280.3 478.5,355.0 494.6,350.6 510.6,350.2 526.6,346.8 542.6,343.1 558.6,347.1 574.7,348.0 590.7,342.2 606.7,342.7 622.7,349.3 638.8,349.7 654.8,358.4 670.8,348.4 686.8,351.4 702.9,355.2 718.9,349.3 734.9,343.9 750.9,339.3 766.9,341.1 783.0,349.5 799.0,345.4 815.0,347.2 831.0,348.0 847.1,351.0 863.1,346.4 879.1,344.4 895.1,348.8 911.2,342.6 927.2,351.7 943.2,317.5 959.2,264.7 975.2,258.0 991.3,259.8 1007.3,271.8 1023.3,266.0 1039.3,265.2 1055.4,266.8 1071.4,259.2 1087.4,250.1 1103.4,250.8 1119.5,262.5 1135.5,253.3 1151.5,260.8 1167.5,262.4 1183.5,266.5 1199.6,261.8 1215.6,259.1 1231.6,260.4 1247.6,263.3 1263.7,264.1 1279.7,266.1 1295.7,258.4 1311.7,264.3 1327.7,264.6 1343.8,265.2 1359.8,268.8 1375.8,267.2 1391.8,274.2 1407.9,265.6 1423.9,260.9 1439.9,264.0 1455.9,289.2 1472.0,354.5 1488.0,344.7 1504.0,341.9 1520.0,344.9 1536.0,344.7 1552.1,340.9 1568.1,342.6 1584.1,343.5 1600.1,338.9 1616.2,339.4 1632.2,350.0 1648.2,352.0 1664.2,342.6 1680.3,344.8 1696.3,348.1 1712.3,352.7 1728.3,349.7 1744.3,338.4 1760.4,344.3"/>
<polyline fill="none" stroke="#f47fb5" stroke-width="1.15" stroke-linejoin="round" points="318.3,354.5 334.3,354.3 350.3,354.6 366.4,354.4 382.4,354.5 398.4,354.6 414.4,354.5 430.5,354.5 446.5,354.4 462.5,354.5 478.5,357.2 494.6,360.9 510.6,356.6 526.6,347.0 542.6,343.3 558.6,341.7 574.7,346.3 590.7,341.7 606.7,347.9 622.7,346.5 638.8,347.5 654.8,344.9 670.8,348.9 686.8,354.3 702.9,351.9 718.9,350.7 734.9,351.3 750.9,345.7 766.9,343.5 783.0,348.4 799.0,344.1 815.0,348.4 831.0,353.3 847.1,356.1 863.1,354.1 879.1,350.7 895.1,346.7 911.2,342.0 927.2,344.2 943.2,352.1 959.2,354.6 975.2,354.3 991.3,354.7 1007.3,354.4 1023.3,354.3 1039.3,354.0 1055.4,354.5 1071.4,354.3 1087.4,354.0 1103.4,354.2 1119.5,354.3 1135.5,354.3 1151.5,354.5 1167.5,354.5 1183.5,354.6 1199.6,354.1 1215.6,354.1 1231.6,354.5 1247.6,354.1 1263.7,354.8 1279.7,354.7 1295.7,354.4 1311.7,354.6 1327.7,354.5 1343.8,354.0 1359.8,354.7 1375.8,354.7 1391.8,354.6 1407.9,354.3 1423.9,354.6 1439.9,354.8 1455.9,354.4 1472.0,354.5 1488.0,351.2 1504.0,343.1 1520.0,347.2 1536.0,349.6 1552.1,350.6 1568.1,351.1 1584.1,344.3 1600.1,353.9 1616.2,349.0 1632.2,345.9 1648.2,346.4 1664.2,346.6 1680.3,348.3 1696.3,352.1 1712.3,351.9 1728.3,360.4 1744.3,348.3 1760.4,346.7"/>
<polyline fill="none" stroke="#38a8e8" stroke-width="1.15" stroke-linejoin="round" points="318.3,354.4 334.3,354.4 350.3,354.5 366.4,354.5 382.4,354.3 398.4,354.4 414.4,354.5 430.5,354.5 446.5,354.5 462.5,354.6 478.5,354.3 494.6,352.1 510.6,350.0 526.6,346.3 542.6,346.2 558.6,349.3 574.7,352.3 590.7,352.9 606.7,349.6 622.7,353.8 638.8,354.1 654.8,347.8 670.8,355.4 686.8,351.0 702.9,350.6 718.9,357.2 734.9,352.7 750.9,354.2 766.9,347.9 783.0,352.9 799.0,345.3 815.0,353.1 831.0,350.0 847.1,353.5 863.1,360.0 879.1,354.5 895.1,357.0 911.2,352.9 927.2,346.7 943.2,351.0 959.2,354.2 975.2,354.7 991.3,354.5 1007.3,354.3 1023.3,354.6 1039.3,354.7 1055.4,354.8 1071.4,354.3 1087.4,354.0 1103.4,354.0 1119.5,354.7 1135.5,354.2 1151.5,354.5 1167.5,354.3 1183.5,354.5 1199.6,354.0 1215.6,354.0 1231.6,354.8 1247.6,354.2 1263.7,354.7 1279.7,354.8 1295.7,354.6 1311.7,354.2 1327.7,354.0 1343.8,354.7 1359.8,354.5 1375.8,354.8 1391.8,354.4 1407.9,354.4 1423.9,354.5 1439.9,354.6 1455.9,354.2 1472.0,349.9 1488.0,348.2 1504.0,348.1 1520.0,344.2 1536.0,350.5 1552.1,353.0 1568.1,346.4 1584.1,348.8 1600.1,350.0 1616.2,351.3 1632.2,350.3 1648.2,353.7 1664.2,347.9 1680.3,347.2 1696.3,344.9 1712.3,347.6 1728.3,353.1 1744.3,347.4 1760.4,346.0"/>
<polyline fill="none" stroke="#9fb0c4" stroke-width="1.15" stroke-linejoin="round" points="318.3,354.6 334.3,354.3 350.3,354.5 366.4,354.5 382.4,354.4 398.4,354.5 414.4,354.5 430.5,354.6 446.5,354.6 462.5,354.2 478.5,356.0 494.6,353.3 510.6,349.6 526.6,346.9 542.6,359.9 558.6,353.2 574.7,350.3 590.7,339.3 606.7,350.1 622.7,351.7 638.8,352.6 654.8,355.8 670.8,349.0 686.8,349.8 702.9,354.1 718.9,356.6 734.9,353.9 750.9,341.9 766.9,339.1 783.0,358.5 799.0,360.1 815.0,355.3 831.0,354.4 847.1,358.2 863.1,352.9 879.1,353.8 895.1,351.7 911.2,345.0 927.2,349.1 943.2,351.3 959.2,354.6 975.2,354.4 991.3,354.8 1007.3,354.6 1023.3,354.0 1039.3,354.8 1055.4,354.4 1071.4,354.1 1087.4,354.2 1103.4,354.2 1119.5,354.5 1135.5,354.2 1151.5,354.1 1167.5,354.2 1183.5,354.0 1199.6,354.7 1215.6,354.0 1231.6,354.5 1247.6,354.2 1263.7,354.6 1279.7,354.1 1295.7,354.8 1311.7,354.3 1327.7,354.6 1343.8,354.5 1359.8,354.5 1375.8,354.3 1391.8,354.1 1407.9,354.5 1423.9,354.3 1439.9,354.5 1455.9,354.6 1472.0,349.3 1488.0,351.6 1504.0,347.5 1520.0,350.8 1536.0,343.6 1552.1,344.9 1568.1,341.1 1584.1,351.8 1600.1,351.5 1616.2,347.1 1632.2,348.0 1648.2,349.0 1664.2,344.4 1680.3,348.1 1696.3,347.8 1712.3,351.7 1728.3,353.2 1744.3,349.9 1760.4,342.8"/>
<polyline fill="none" stroke="#1f78c1" stroke-width="1.15" stroke-linejoin="round" points="318.3,362.7 334.3,362.4 350.3,362.6 366.4,362.4 382.4,362.7 398.4,362.3 414.4,362.6 430.5,362.3 446.5,362.7 462.5,362.6 478.5,352.7 494.6,349.5 510.6,345.6 526.6,348.5 542.6,354.2 558.6,351.3 574.7,347.7 590.7,350.4 606.7,340.2 622.7,343.1 638.8,344.4 654.8,351.0 670.8,345.9 686.8,347.1 702.9,343.4 718.9,340.7 734.9,348.9 750.9,349.5 766.9,351.2 783.0,354.2 799.0,350.8 815.0,349.2 831.0,354.5 847.1,359.3 863.1,352.1 879.1,355.1 895.1,349.7 911.2,342.7 927.2,347.1 943.2,356.4 959.2,362.9 975.2,362.4 991.3,362.6 1007.3,362.5 1023.3,362.5 1039.3,362.2 1055.4,362.8 1071.4,362.6 1087.4,362.1 1103.4,362.3 1119.5,362.7 1135.5,362.3 1151.5,362.1 1167.5,362.6 1183.5,362.2 1199.6,362.8 1215.6,362.1 1231.6,362.5 1247.6,362.8 1263.7,362.3 1279.7,362.4 1295.7,362.2 1311.7,362.3 1327.7,362.3 1343.8,362.5 1359.8,362.1 1375.8,362.9 1391.8,362.2 1407.9,362.4 1423.9,362.7 1439.9,362.3 1455.9,362.6 1472.0,353.0 1488.0,345.6 1504.0,343.1 1520.0,345.9 1536.0,345.9 1552.1,340.2 1568.1,339.1 1584.1,341.7 1600.1,343.0 1616.2,346.7 1632.2,347.2 1648.2,342.3 1664.2,338.7 1680.3,348.5 1696.3,353.9 1712.3,350.9 1728.3,350.3 1744.3,346.9 1760.4,344.9"/>
<polyline fill="none" stroke="#3a8fd0" stroke-width="1.15" stroke-linejoin="round" points="318.3,362.6 334.3,362.4 350.3,362.4 366.4,362.7 382.4,362.7 398.4,362.6 414.4,362.4 430.5,362.5 446.5,362.3 462.5,362.7 478.5,350.4 494.6,353.1 510.6,352.8 526.6,346.9 542.6,345.8 558.6,355.6 574.7,354.2 590.7,345.4 606.7,351.9 622.7,355.1 638.8,359.5 654.8,355.0 670.8,357.7 686.8,359.6 702.9,362.3 718.9,361.6 734.9,356.2 750.9,352.2 766.9,355.0 783.0,362.4 799.0,356.5 815.0,357.6 831.0,352.8 847.1,359.7 863.1,359.8 879.1,357.6 895.1,351.3 911.2,348.6 927.2,345.6 943.2,357.0 959.2,362.7 975.2,362.6 991.3,362.8 1007.3,362.4 1023.3,362.6 1039.3,362.3 1055.4,362.6 1071.4,362.6 1087.4,362.5 1103.4,362.2 1119.5,362.7 1135.5,362.4 1151.5,362.8 1167.5,362.5 1183.5,362.7 1199.6,362.2 1215.6,362.7 1231.6,362.3 1247.6,362.4 1263.7,362.6 1279.7,362.2 1295.7,362.6 1311.7,362.3 1327.7,362.5 1343.8,362.6 1359.8,362.9 1375.8,362.6 1391.8,362.7 1407.9,362.6 1423.9,362.2 1439.9,362.7 1455.9,362.4 1472.0,351.6 1488.0,354.3 1504.0,348.9 1520.0,345.7 1536.0,343.6 1552.1,348.9 1568.1,347.4 1584.1,355.3 1600.1,348.2 1616.2,346.2 1632.2,355.7 1648.2,358.4 1664.2,353.9 1680.3,352.8 1696.3,353.4 1712.3,355.1 1728.3,354.4 1744.3,351.9 1760.4,355.6"/>
<polyline fill="none" stroke="#e5179a" stroke-width="1.15" stroke-linejoin="round" points="318.3,362.3 334.3,362.3 350.3,362.8 366.4,362.5 382.4,362.6 398.4,362.6 414.4,362.6 430.5,362.6 446.5,362.5 462.5,362.5 478.5,350.6 494.6,341.6 510.6,349.7 526.6,354.6 542.6,347.4 558.6,353.9 574.7,358.5 590.7,349.4 606.7,351.4 622.7,357.3 638.8,356.3 654.8,356.4 670.8,356.8 686.8,353.1 702.9,353.9 718.9,354.7 734.9,351.3 750.9,355.2 766.9,349.6 783.0,353.0 799.0,351.4 815.0,358.4 831.0,360.5 847.1,359.6 863.1,359.6 879.1,355.7 895.1,360.1 911.2,350.1 927.2,348.1 943.2,358.4 959.2,362.2 975.2,362.2 991.3,362.2 1007.3,362.9 1023.3,362.7 1039.3,362.5 1055.4,362.5 1071.4,362.9 1087.4,362.3 1103.4,362.7 1119.5,362.5 1135.5,362.8 1151.5,362.5 1167.5,362.8 1183.5,362.9 1199.6,362.5 1215.6,362.7 1231.6,362.3 1247.6,362.7 1263.7,362.6 1279.7,362.9 1295.7,362.8 1311.7,362.6 1327.7,362.5 1343.8,362.6 1359.8,362.3 1375.8,362.9 1391.8,362.3 1407.9,362.8 1423.9,362.2 1439.9,362.5 1455.9,362.6 1472.0,352.2 1488.0,355.0 1504.0,345.2 1520.0,355.1 1536.0,352.1 1552.1,350.5 1568.1,346.5 1584.1,344.2 1600.1,348.5 1616.2,353.5 1632.2,350.7 1648.2,349.5 1664.2,346.6 1680.3,349.3 1696.3,352.6 1712.3,341.9 1728.3,354.7 1744.3,355.2 1760.4,346.4"/>
<path d="M318 371.500H1762" stroke="#666" stroke-width="1"/>
<g font-family="Liberation Sans, sans-serif" font-size="12" fill="#8a8a8a">
<g text-anchor="end" font-size="12.400"><text x="315" y="240">260</text><text x="315" y="279">240</text><text x="315" y="319">220</text><text x="315" y="360">200</text></g>
<g text-anchor="middle"><text x="366.500" y="395">15:17</text><text x="462.600" y="395">15:18</text><text x="558.800" y="395">15:19</text><text x="654.900" y="395">15:20</text><text x="751" y="395">15:21</text><text x="847.200" y="395">15:22</text><text x="943.300" y="395">15:23</text><text x="1039.500" y="395">15:24</text><text x="1135.600" y="395">15:25</text><text x="1231.700" y="395">15:26</text><text x="1327.900" y="395">15:27</text><text x="1424" y="395">15:28</text><text x="1520" y="395">15:29</text><text x="1616.300" y="395">15:30</text><text x="1712.400" y="395">15:31</text></g>
</g>
</svg>

<!-- DROPDOWN -->
<div id="dd" class="abs"></div>
<div class="abs ddl" id="d0" style="top:116px;left:1425.800px;letter-spacing:0.076px">Reset to default</div>
<div class="abs" style="left:1410.500px;top:142px;width:165px;height:1px;background:#e0e0e0"></div>
<div class="abs ddl" id="d1" style="top:153px;left:1425.800px;letter-spacing:-0.044px">Past minute</div><div class="abs ddr" id="r1" style="top:153px;right:205.409px;letter-spacing:0.191px">(-1m)</div>
<div class="abs ddl" id="d2" style="top:189px;left:1425.800px;letter-spacing:0.070px">Past 15 min...</div><div class="abs ddr" id="r2" style="top:189px;right:205.327px;letter-spacing:0.273px">(-15m)</div>
<div class="abs ddl" id="d3" style="top:225px;left:1425.800px;letter-spacing:-0.167px">Past hour</div><div class="abs ddr" id="r3" style="top:225px;right:205.466px;letter-spacing:0.134px">(-1h)</div>
<div class="abs ddl" id="d4" style="top:261px;left:1425.700px;letter-spacing:-0.083px">Past 12 hours</div><div class="abs ddr" id="r4" style="top:261px;right:205.472px;letter-spacing:0.228px">(-12h)</div>
<div class="abs ddl" id="d5" style="top:297px;left:1425.700px;letter-spacing:-0.198px">Past day</div><div class="abs ddr" id="r5" style="top:297px;right:205.491px;letter-spacing:0.209px">(-1d)</div>
<div class="abs ddl" id="d6" style="top:333px;left:1425.700px;letter-spacing:-0.062px">Past week</div><div class="abs ddr" id="r6" style="top:333px;right:205.248px;letter-spacing:0.452px">(-1w)</div>
<div class="abs ddl" id="d7" style="top:369px;left:1425.700px;letter-spacing:0.075px">Past month</div><div class="abs ddr" id="r7" style="top:369px;right:205.472px;letter-spacing:0.228px">(-31d)</div>
<div class="abs" style="left:1410.500px;top:395px;width:165px;height:1px;background:#e0e0e0"></div>
<div class="abs ddl" id="d8" style="top:406px;left:1425.700px;letter-spacing:-0.388px">Custom...</div>
<!-- badge 1 -->
<svg class="abs" style="left:1572px;top:183px" width="40" height="32" viewBox="1572 183 40 32"><path d="M1575.30 199.10Q1580.80 196.90 1584.90 190.67A13.70 13.70 0 1 1 1584.90 207.53Q1580.80 201.30 1575.30 199.10Z" fill="#ee4b22" stroke="#ee4b22" stroke-width="0.600" stroke-linejoin="round"/><text x="1595.500" y="204.200" text-anchor="middle" font-family="Liberation Sans, sans-serif" font-size="14.500" fill="#fff" stroke="#fff" stroke-width="0.300">1</text></svg>

<!-- TABS -->
<div class="abs" style="left:257px;top:452px;width:1510px;height:1px;background:#d9d9d9"></div>
<div class="abs tab" id="tab1" style="top:425px;color:#222;left:272.500px;letter-spacing:0.205px">Plot editor</div>
<div class="abs" style="left:272px;top:451px;width:66px;height:1px;background:#2c2c2c;box-shadow:0 1px 0 #7d7d7d,0 -1px 0 rgba(44,44,44,.25)"></div>
<div class="abs tab" id="tab2" style="top:426px;left:386.500px;letter-spacing:0.202px">Chart options</div>
<div class="abs tab" id="tab3" style="top:426px;left:521.000px;letter-spacing:-0.475px">Axes</div>
<div class="abs tab" id="tab4" style="top:426px;left:599.600px;letter-spacing:-0.003px">Data table</div>
<div class="abs tab" id="tab5" style="top:426px;left:712.300px;letter-spacing:-0.282px">Events</div>

<!-- TABLE HEADER -->
<div class="abs th" id="th1" style="top:460px;left:298.900px;letter-spacing:-0.224px">Plot</div>
<div class="abs th" id="th2" style="top:460px;left:345.100px;letter-spacing:-0.563px">Signal</div>
<div class="abs th" id="th3" style="top:460px;left:1020.400px;letter-spacing:-0.067px">F(x)</div>
<div class="abs th" id="th4" style="top:460px;left:1284.600px;letter-spacing:-0.496px">Name</div>
<div class="abs th" id="th5" style="top:460px;left:1565.300px;letter-spacing:-0.297px">Y-Axis</div>
<div class="abs" style="left:1660px;top:453px;width:1px;height:28px;background:#d9d9d9"></div>
<div class="abs td blue" id="vsf" style="top:460px;left:1672.800px;letter-spacing:-0.088px">View SignalFlow</div>
<div class="abs" style="left:257px;top:480px;width:1510px;height:1px;background:#d9d9d9"></div>

<!-- ROW -->
<svg class="abs" style="left:274px;top:497px" width="20" height="18" viewBox="274 497 20 18"><path d="M275.800 505.900C278.500 501.600 281.300 499.700 284 499.700C286.700 499.700 289.500 501.600 292.200 505.900C289.500 510.200 286.700 512.100 284 512.100C281.300 512.100 278.500 510.200 275.800 505.900Z" fill="none" stroke="#0b5cd6" stroke-width="1.700" stroke-linejoin="round"/><circle cx="284.100" cy="505.900" r="3.700" fill="#0b5cd6"/><circle cx="285.300" cy="504.500" r="0.900" fill="#cfe0fa"/></svg>
<div class="abs" id="rowA" style="left:303.700px;top:496.600px;font-size:15.600px;line-height:18px;color:#333;-webkit-text-stroke:0.250px #333">A</div>
<div class="abs inp" style="left:342px;top:489px;width:153px;height:28px;background:#fafafa"></div>
<svg class="abs" style="left:351px;top:497px" width="14" height="14" viewBox="351 497 14 14"><g transform="rotate(-42 358 504)" fill="none" stroke="#555"><rect x="353.200" y="501.500" width="9.600" height="5" rx="0.800" stroke-width="0.850"/><path d="M353.200 504H362.800M355.600 501.500V506.500M358 501.500V506.500M360.400 501.500V506.500" stroke-width="0.450" stroke="#777"/></g></svg>
<div class="abs td" id="sig" style="top:497px;color:#333;left:373.300px;letter-spacing:0.048px">demo.trans.latency</div>
<div class="abs btn" id="addf" style="left:501px;top:489px;width:69px;height:28px;line-height:26.500px;padding-left:0.400px">Add filter</div>
<svg class="abs" style="left:582px;top:488px" width="40" height="32" viewBox="582 488 40 32"><path d="M584.70 504.20Q590.20 502.00 594.10 495.77A13.70 13.70 0 1 1 594.10 512.63Q590.20 506.40 584.70 504.20Z" fill="#ee4b22" stroke="#ee4b22" stroke-width="0.600" stroke-linejoin="round"/><text x="604.800" y="509.300" text-anchor="middle" font-family="Liberation Sans, sans-serif" font-size="14.500" fill="#fff" stroke="#fff" stroke-width="0.300">2</text></svg>
<div class="abs td" id="ts" style="top:497px;color:#444;left:848.300px;letter-spacing:-0.054px">18 ts</div>
<div class="abs td blue" id="avg" style="top:497px;left:904.600px;letter-spacing:-0.067px">Average rollup</div>
<div class="abs btn" id="adda" style="left:1018px;top:489px;width:93px;height:28px;line-height:26px;padding-left:0.400px">Add analytics</div>
<div class="abs td blue" id="nm" style="top:497px;left:1284.600px;letter-spacing:0.024px">demo.trans.latency</div>
<div class="abs td blue" id="left" style="top:497px;text-decoration:none;left:1564.200px;letter-spacing:0.561px">Left</div>
<div class="abs" style="left:1564px;top:509.600px;width:22px;height:1.400px;background:#1d2b4f"></div>
<svg class="abs" style="left:1642px;top:500px" width="20" height="20" viewBox="1642 500 20 20"><g stroke="#5a5a5a" fill="none"><circle cx="1651.9" cy="509.9" r="3.850" stroke-width="1.800"/><circle cx="1651.9" cy="509.9" r="1.550" stroke-width="1"/><path d="M1656.40 509.90L1659.80 509.90M1655.08 513.08L1657.49 515.49M1651.90 514.40L1651.90 517.80M1648.72 513.08L1646.31 515.49M1647.40 509.90L1644.00 509.90M1648.72 506.72L1646.31 504.31M1651.90 505.40L1651.90 502.00M1655.08 506.72L1657.49 504.31" stroke-width="1.900"/></g></svg>
<svg class="abs" style="left:1674px;top:500px" width="20" height="10" viewBox="1674 500 20 10"><g fill="#4a4a4a"><circle cx="1678.500" cy="505" r="1.800"/><circle cx="1684.050" cy="505" r="1.800"/><circle cx="1689.600" cy="505" r="1.800"/></g></svg>
<div class="abs" style="left:257px;top:531px;width:1510px;height:1px;background:#d9d9d9"></div>

</body>
</html>
